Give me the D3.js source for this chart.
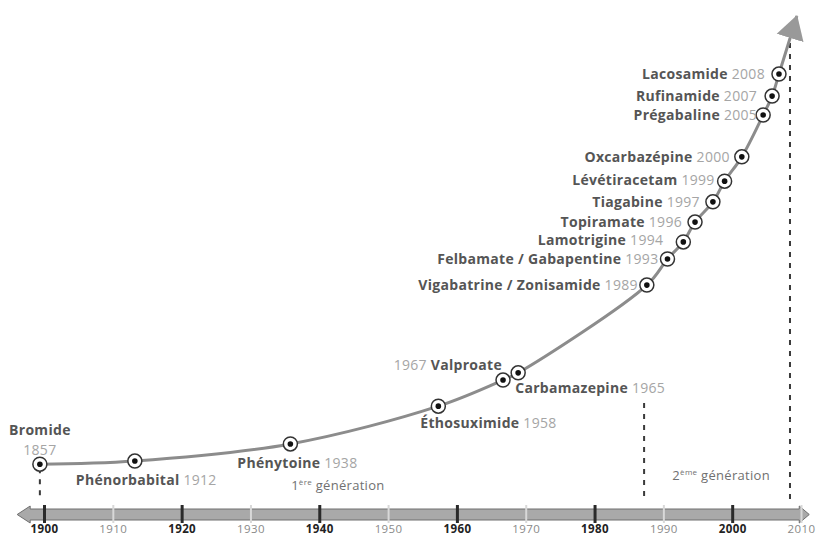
<!DOCTYPE html>
<html>
<head>
<meta charset="utf-8">
<script src="https://cdn.jsdelivr.net/npm/d3@7"></script>
<style>
  body { margin: 0; background: #fff; }
  svg { display: block; }
  text { font-family: "Open Sans", sans-serif; }
</style>
</head>
<body>
<svg id="chart" width="821" height="538"></svg>
<script>
// drugs, year of introduction, and where each marker sits on the curve
const drugNames = ['Bromide', 'Phénorbabital', 'Phénytoine', 'Éthosuximide', 'Valproate', 'Carbamazepine',
  'Vigabatrine / Zonisamide', 'Felbamate / Gabapentine', 'Lamotrigine', 'Topiramate', 'Tiagabine',
  'Lévétiracetam', 'Oxcarbazépine', 'Prégabaline', 'Rufinamide', 'Lacosamide'];
const drugYears = [1857, 1912, 1938, 1958, 1967, 1965, 1989, 1993, 1994, 1996, 1997, 1999, 2000, 2005, 2007, 2008];
const curveYears = [1899.4, 1913.2, 1935.8, 1957.3, 1966.7, 1968.9, 1987.6, 1990.6, 1992.9, 1994.6, 1997.2,
  1998.9, 2001.4, 2004.5, 2005.8, 2006.8];
const curveLevels = [0.4, 1.1, 4.9, 13.3, 19.1, 20.7, 40.2, 46, 49.8, 54.2, 58.7, 63.3, 68.7, 78, 82.2, 87.1];
const arrowTip = { year: 2009.4, level: 100 };

const tickYears = [1900, 1910, 1920, 1930, 1940, 1950, 1960, 1970, 1980, 1990, 2000, 2010];
const boldTicks = [1900, 1920, 1940, 1960, 1980, 2000];

const generationLabels = [['1', 'ère'], ['2', 'ème']];
const generationYears = [1942.7, 1998.4];
const generationLevels = [-5.3, -3];
const boundaryYears = [1899.4, 1987.2, 2008.4];
const boundaryTops = [-0.5, 14, 94];

// label placement relative to each marker
const labelOffsets = [
  { dx: 0, dy: -29, anchor: 'middle', twoLines: true },
  { dx: -59, dy: 24, anchor: 'start' },
  { dx: -53, dy: 24, anchor: 'start' },
  { dx: -18, dy: 22, anchor: 'start' },
  { dx: -1, dy: -10, anchor: 'end', yearFirst: true },
  { dx: -3, dy: 20, anchor: 'start' },
  { dx: -9, dy: 5, anchor: 'end' },
  { dx: -9, dy: 5, anchor: 'end' },
  { dx: -20, dy: 3, anchor: 'end' },
  { dx: -13, dy: 5, anchor: 'end' },
  { dx: -13, dy: 5, anchor: 'end' },
  { dx: -10, dy: 4, anchor: 'end' },
  { dx: -12, dy: 5, anchor: 'end' },
  { dx: -6, dy: 5, anchor: 'end' },
  { dx: -15, dy: 5, anchor: 'end' },
  { dx: -14, dy: 5, anchor: 'end' }
];

const svg = d3.select('#chart');
const x = d3.scaleLinear().domain([1900, 2010]).range([44, 801]);
const y = d3.scaleLinear().domain([0, 100]).range([466, 16]);

const drugs = drugNames.map((name, i) => ({
  name, year: drugYears[i], cx: curveYears[i], level: curveLevels[i], place: labelOffsets[i]
}));

// timeline bar with arrows at both ends
const barTop = 509, barBottom = 520, headTop = 506, headBottom = 523;
const left = x(1896.1), right = x(2011.2);
svg.append('path')
  .attr('d', `M${left},${(barTop + barBottom) / 2} L${left + 13},${headTop} L${left + 13},${barTop}
    L${right - 10},${barTop} L${right - 10},${headTop} L${right},${(barTop + barBottom) / 2}
    L${right - 10},${headBottom} L${right - 10},${barBottom} L${left + 13},${barBottom}
    L${left + 13},${headBottom} Z`)
  .attr('fill', '#a9a9a9')
  .attr('stroke', '#6f6f6f')
  .attr('stroke-width', 1);

const axis = svg.append('g')
  .attr('transform', 'translate(0,505)')
  .call(d3.axisBottom(x).tickValues(tickYears).tickFormat(d3.format('d')).tickSize(18).tickPadding(2));
axis.select('.domain').remove();
axis.selectAll('.tick line')
  .attr('stroke', d => boldTicks.includes(d) ? '#2a2a2a' : '#d8d8d8')
  .attr('stroke-width', d => boldTicks.includes(d) ? 3 : 2);
axis.selectAll('.tick text')
  .attr('font-family', '"Open Sans", sans-serif')
  .attr('font-size', 11.5)
  .attr('letter-spacing', 0.4)
  .attr('font-weight', d => boldTicks.includes(d) ? 700 : 400)
  .attr('fill', d => boldTicks.includes(d) ? '#222' : '#8a8a8a');

// generation boundaries
svg.selectAll('.boundary')
  .data(boundaryYears)
  .join('line')
  .attr('class', 'boundary')
  .attr('x1', d => x(d)).attr('x2', d => x(d))
  .attr('y1', (d, i) => y(boundaryTops[i]))
  .attr('y2', 500)
  .attr('stroke', '#3a3a3a')
  .attr('stroke-width', 2)
  .attr('stroke-dasharray', '5,6');

generationLabels.forEach((g, i) => {
  const t = svg.append('text')
    .attr('x', x(generationYears[i]))
    .attr('y', y(generationLevels[i]))
    .attr('text-anchor', 'middle')
    .attr('font-size', 13)
    .attr('letter-spacing', 0.3)
    .attr('fill', '#707070');
  t.append('tspan').text(g[0]);
  t.append('tspan').attr('font-size', 8).attr('dy', -5).text(g[1]);
  t.append('tspan').attr('dy', 5).text(' génération');
});

// the growth curve with its arrow
const defs = svg.append('defs');
defs.append('marker')
  .attr('id', 'head')
  .attr('markerUnits', 'userSpaceOnUse')
  .attr('viewBox', '0 -15 24 30')
  .attr('refX', 23).attr('refY', 0)
  .attr('markerWidth', 24).attr('markerHeight', 30)
  .attr('orient', 'auto')
  .append('path')
  .attr('d', 'M0,-14L24,0L0,14Z')
  .attr('fill', '#999');

const line = d3.line()
  .x(d => x(d.cx))
  .y(d => y(d.level))
  .curve(d3.curveCatmullRom.alpha(0.5));

svg.append('path')
  .datum(drugs.concat([{ cx: arrowTip.year, level: arrowTip.level }]))
  .attr('d', line)
  .attr('fill', 'none')
  .attr('stroke', '#8c8c8c')
  .attr('stroke-width', 3)
  .attr('marker-end', 'url(#head)');

// markers
const marks = svg.selectAll('.mark')
  .data(drugs)
  .join('g')
  .attr('class', 'mark')
  .attr('transform', d => `translate(${x(d.cx)},${y(d.level)})`);
marks.append('circle').attr('r', 7).attr('fill', '#fff').attr('stroke', '#333').attr('stroke-width', 1.5);
marks.append('circle').attr('r', 2.8).attr('fill', '#111');

// labels
drugs.forEach(d => {
  const p = d.place;
  const t = svg.append('text')
    .attr('x', x(d.cx) + p.dx)
    .attr('y', y(d.level) + p.dy)
    .attr('text-anchor', p.anchor)
    .attr('font-size', 14)
    .attr('letter-spacing', 0.3);
  const name = s => t.append('tspan').attr('font-weight', 700).attr('fill', '#555').text(s);
  const year = s => t.append('tspan').attr('fill', '#a5a5a5').text(s);
  if (p.twoLines) {
    name(d.name);
    year(d.year).attr('x', x(d.cx) + p.dx).attr('dy', 20);
  } else if (p.yearFirst) {
    year(d.year + ' ');
    name(d.name);
  } else {
    name(d.name + ' ');
    year(d.year);
  }
});
</script>
</body>
</html>
